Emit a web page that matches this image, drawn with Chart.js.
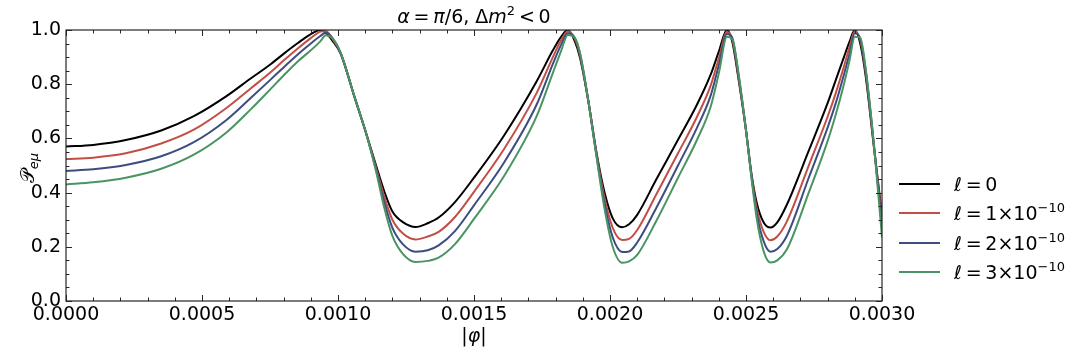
<!DOCTYPE html>
<html><head><meta charset="utf-8">
<script src="https://cdn.jsdelivr.net/npm/chart.js@4.4.1/dist/chart.umd.min.js"></script>
<style>html,body{margin:0;padding:0;background:#fff;}#wrap{width:1086px;height:355px;}</style>
</head><body><div id="wrap"><canvas id="c" width="1086" height="355"></canvas></div>
<script>
// |phi| in units of 1e-3
const phiE3 = [0,0.10,0.22,0.35,0.47,0.59,0.68,0.75,0.80,0.85,0.90,0.935,0.955,0.98,
  1.01,1.06,1.10,1.14,1.17,1.20,1.24,1.285,1.33,1.37,1.43,1.50,1.61,1.73,1.79,1.82,1.845,1.87,1.89,
  1.92,1.95,1.98,2.01,2.045,2.07,2.10,2.17,
  2.25,2.32,2.37,2.40,2.43,2.45,2.47,
  2.50,2.52,2.54,2.565,2.59,2.615,2.65,2.73,
  2.80,2.83,2.86,2.88,2.90,2.92,2.94,2.97,3.00];
const pL0 = [.570,.576,.594,.629,.682,.756,.822,.872,.912,.950,.985,1.0,.99,.960,
  .912,.755,.630,.500,.405,.330,.290,.273,.287,.308,.365,.455,.610,.810,.925,.975,1.0,.960,.897,
  .74,.55,.40,.305,.272,.283,.318,.448,
  .595,.725,.835,.920,1.0,.955,.835,
  .63,.47,.36,.29,.271,.29,.355,.553,
  .73,.815,.90,.955,1.0,.95,.83,.57,.317];
const pL1 = [.524,.529,.545,.581,.632,.712,.785,.842,.887,.930,.970,.994,.996,.967,
  .914,.755,.630,.492,.385,.300,.248,.227,.238,.255,.310,.403,.560,.767,.900,.962,.995,.968,.905,
  .74,.545,.38,.27,.225,.229,.262,.393,
  .545,.68,.795,.895,.993,.965,.845,
  .63,.465,.34,.255,.224,.238,.293,.498,
  .68,.767,.865,.935,.995,.962,.845,.575,.298];
const pL2 = [.480,.486,.502,.534,.586,.668,.750,.815,.862,.908,.950,.978,.990,.970,
  .915,.755,.630,.485,.365,.270,.208,.182,.187,.205,.258,.353,.510,.724,.875,.945,.988,.972,.910,
  .74,.54,.36,.235,.181,.183,.216,.343,
  .50,.64,.758,.87,.985,.97,.85,
  .63,.46,.32,.22,.182,.192,.24,.453,
  .64,.73,.835,.91,.988,.968,.85,.58,.275];
const pL3 = [.430,.438,.455,.488,.540,.622,.708,.780,.832,.882,.925,.958,.981,.968,
  .916,.755,.630,.478,.345,.240,.172,.144,.148,.160,.210,.303,.460,.681,.842,.922,.982,.972,.915,
  .74,.535,.34,.20,.141,.146,.170,.295,
  .455,.595,.717,.84,.975,.965,.858,
  .63,.455,.30,.183,.142,.150,.19,.398,
  .59,.688,.80,.885,.975,.972,.858,.58,.235];
const seriesMant = ['0','1','2','3'];
const xTickLabels = ['0.0000','0.0005','0.0010','0.0015','0.0020','0.0025','0.0030'];
const yTickLabels = ['0.0','0.2','0.4','0.6','0.8','1.0'];
const colors = ['#000000','#c24f45','#3d4d80','#4a9463'];

const FONT = '"DejaVu Sans", sans-serif';
function segFont(s, size){
  const sz = (s.sup||s.sub) ? Math.round(size*0.7) : size;
  return (s.it?'italic ':'') + sz + 'px ' + FONT;
}
function drawRich(ctx, segs, x, y, align, size){
  let total = 0;
  for (const s of segs){ ctx.font = segFont(s,size); total += ctx.measureText(s.t).width; }
  let cx = align==='center' ? x-total/2 : (align==='right' ? x-total : x);
  ctx.textAlign='left'; ctx.textBaseline='alphabetic';
  for (const s of segs){
    ctx.font = segFont(s,size);
    const dy = s.sup ? -size*0.42 : (s.sub ? size*0.22 : 0);
    ctx.fillText(s.t, cx, y+dy);
    cx += ctx.measureText(s.t).width;
  }
}
const sp = '\u2009';
const series = [pL0,pL1,pL2,pL3];
const datasets = series.map((arr,i)=>({
  label: 'l'+i,
  data: phiE3.map((p,j)=>({x:p/1000, y:arr[j]})),
  borderColor: colors[i], borderWidth: 2, pointRadius: 0,
  cubicInterpolationMode: 'monotone', fill:false, order: 3-i
}));

const framePlugin = {
  id:'frame',
  afterDatasetsDraw(chart){
    const {ctx, chartArea:a, scales:{x,y}} = chart;
    ctx.save();
    ctx.strokeStyle='#262626'; ctx.lineWidth=1.2;
    ctx.strokeRect(a.left, a.top, a.right-a.left, a.bottom-a.top);
    ctx.lineWidth=1;
    ctx.beginPath();
    for (let i=0;i<=30;i++){
      const px = Math.round(x.getPixelForValue(i*0.0001))+0.5;
      const L = i%5===0 ? 6 : 3.5;
      ctx.moveTo(px,a.bottom); ctx.lineTo(px,a.bottom-L);
      ctx.moveTo(px,a.top); ctx.lineTo(px,a.top+L);
    }
    for (let i=0;i<=20;i++){
      const py = Math.round(y.getPixelForValue(i*0.05))+0.5;
      const L = i%4===0 ? 6 : 3.5;
      ctx.moveTo(a.left,py); ctx.lineTo(a.left+L,py);
      ctx.moveTo(a.right,py); ctx.lineTo(a.right-L,py);
    }
    ctx.stroke();
    ctx.restore();
  },
  afterDraw(chart){
    const {ctx, chartArea:a} = chart;
    ctx.save();
    ctx.fillStyle='#000';
    const cxm = (a.left+a.right)/2;
    drawRich(ctx,[{t:'α',it:true},{t:sp+'='+sp},{t:'π',it:true},{t:'/6, Δ'},{t:'m',it:true},{t:'2',sup:true},{t:sp+'<'+sp+'0'}], cxm, 23, 'center', 19);
    drawRich(ctx,[{t:'|'},{t:'φ',it:true},{t:'|'}], cxm, 342, 'center', 19);
    ctx.save();
    ctx.translate(34, 168);
    ctx.rotate(-Math.PI/2);
    drawRich(ctx,[{t:'𝒫'},{t:'eμ',it:true,sub:true}], 0, 0, 'center', 19);
    ctx.restore();
    const rows=[184,213,243,272];
    for (let i=0;i<4;i++){
      ctx.strokeStyle=colors[i]; ctx.lineWidth=2;
      ctx.beginPath(); ctx.moveTo(899,rows[i]); ctx.lineTo(940,rows[i]); ctx.stroke();
      const segs = i===0 ? [{t:'ℓ'+sp+'='+sp+'0'}] :
        [{t:'ℓ'+sp+'='+sp+seriesMant[i]+'×10'},{t:'−10',sup:true}];
      drawRich(ctx, segs, 954, rows[i]+7, 'left', 19);
    }
    ctx.restore();
  }
};

new Chart(document.getElementById('c'),{
  type:'line',
  data:{datasets},
  plugins:[framePlugin],
  options:{
    responsive:false, animation:false, devicePixelRatio:1,
    layout:{padding:{left:0,right:204,top:30,bottom:0}},
    plugins:{legend:{display:false},title:{display:false},tooltip:{enabled:false}},
    scales:{
      x:{type:'linear',min:0,max:0.003,
        ticks:{stepSize:0.0005,autoSkip:false,maxRotation:0,padding:3,color:'#000',
          font:{size:19,family:'DejaVu Sans'},
          callback:(v)=>xTickLabels[Math.round(v/0.0005)]},
        grid:{display:false,drawTicks:false},border:{display:false},
        afterFit:(s)=>{s.height=54;}},
      y:{type:'linear',min:0,max:1,
        ticks:{stepSize:0.2,padding:5,color:'#000',font:{size:19,family:'DejaVu Sans'},
          callback:(v)=>yTickLabels[Math.round(v/0.2)]},
        grid:{display:false,drawTicks:false},border:{display:false},
        afterFit:(s)=>{s.width=66;}}
    }
  }
});
</script></body></html>
